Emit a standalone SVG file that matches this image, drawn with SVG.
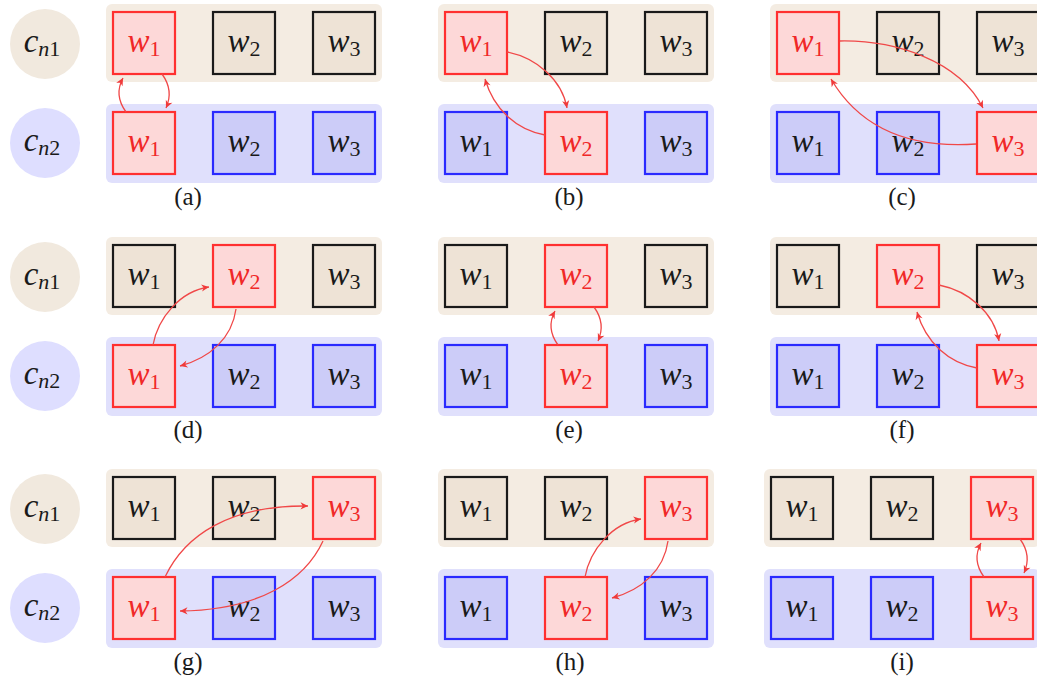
<svg xmlns="http://www.w3.org/2000/svg" width="1037" height="677" viewBox="0 0 1037 677">
<style>
.bgt{fill:#f4ece2}
.bgb{fill:#e0e0fc}
.c1{fill:#f1e9de}
.c2{fill:#dedeff}
.k{fill:#eee3d6;stroke:#1a1a1a;stroke-width:2.2}
.b{fill:#ccccf8;stroke:#2a2aff;stroke-width:2.2}
.r{fill:#fdd8d8;stroke:#ff3030;stroke-width:2.2}
text{font-family:"Liberation Serif","DejaVu Serif",serif;text-anchor:middle}
.w{font-size:33px;font-style:italic;fill:#1a1a1a}
.wr{font-size:33px;font-style:italic;fill:#f02828}
.s{font-size:22px;font-style:normal}
.si{font-size:22px;font-style:italic}
.cap{font-size:25px;fill:#1a1a1a}
.arr{fill:none;stroke:#f04848;stroke-width:1.3;marker-end:url(#ah)}
</style>
<defs>
<marker id="ah" viewBox="-9 -5 10 10" refX="0" refY="0" markerWidth="10" markerHeight="10" markerUnits="userSpaceOnUse" orient="auto">
<path d="M0,0 L-7.5,-3.6 L-5.3,0 L-7.5,3.6 Z" fill="#f03a3a"/>
</marker>
</defs>

<!-- Panel (a) -->
<g id="panel-a">
<rect class="bgt" x="106" y="4" width="276" height="78" rx="6"/>
<rect class="bgb" x="106" y="104" width="276" height="79" rx="6"/>
<g id="a-cn1"><circle class="c1" cx="45" cy="44" r="35"/><text class="w" x="42" y="52">c<tspan class="si" dy="4">n</tspan><tspan class="s">1</tspan></text></g>
<g id="a-cn2"><circle class="c2" cx="45" cy="143" r="35"/><text class="w" x="42" y="151">c<tspan class="si" dy="4">n</tspan><tspan class="s">2</tspan></text></g>
<g id="a-t1"><rect class="r" x="113" y="12" width="62" height="62"/><text class="wr" x="144" y="52">w<tspan class="s" dy="4">1</tspan></text></g>
<g id="a-t2"><rect class="k" x="213" y="12" width="62" height="62"/><text class="w" x="244" y="52">w<tspan class="s" dy="4">2</tspan></text></g>
<g id="a-t3"><rect class="k" x="313" y="12" width="62" height="62"/><text class="w" x="344" y="52">w<tspan class="s" dy="4">3</tspan></text></g>
<g id="a-b1"><rect class="r" x="113" y="112" width="62" height="62"/><text class="wr" x="144" y="152">w<tspan class="s" dy="4">1</tspan></text></g>
<g id="a-b2"><rect class="b" x="213" y="112" width="62" height="62"/><text class="w" x="244" y="152">w<tspan class="s" dy="4">2</tspan></text></g>
<g id="a-b3"><rect class="b" x="313" y="112" width="62" height="62"/><text class="w" x="344" y="152">w<tspan class="s" dy="4">3</tspan></text></g>
<text class="cap" x="188" y="205">(a)</text>
</g>

<!-- Panel (b) -->
<g id="panel-b" transform="translate(332,0)">
<rect class="bgt" x="106" y="4" width="276" height="78" rx="6"/>
<rect class="bgb" x="106" y="104" width="276" height="79" rx="6"/>
<g id="b-t1"><rect class="r" x="113" y="12" width="62" height="62"/><text class="wr" x="144" y="52">w<tspan class="s" dy="4">1</tspan></text></g>
<g id="b-t2"><rect class="k" x="213" y="12" width="62" height="62"/><text class="w" x="244" y="52">w<tspan class="s" dy="4">2</tspan></text></g>
<g id="b-t3"><rect class="k" x="313" y="12" width="62" height="62"/><text class="w" x="344" y="52">w<tspan class="s" dy="4">3</tspan></text></g>
<g id="b-b1"><rect class="b" x="113" y="112" width="62" height="62"/><text class="w" x="144" y="152">w<tspan class="s" dy="4">1</tspan></text></g>
<g id="b-b2"><rect class="r" x="213" y="112" width="62" height="62"/><text class="wr" x="244" y="152">w<tspan class="s" dy="4">2</tspan></text></g>
<g id="b-b3"><rect class="b" x="313" y="112" width="62" height="62"/><text class="w" x="344" y="152">w<tspan class="s" dy="4">3</tspan></text></g>
<text class="cap" x="237" y="205">(b)</text>
</g>

<!-- Panel (c) -->
<g id="panel-c" transform="translate(664,0)">
<rect class="bgt" x="106" y="4" width="276" height="78" rx="6"/>
<rect class="bgb" x="106" y="104" width="276" height="79" rx="6"/>
<g id="c-t1"><rect class="r" x="113" y="12" width="62" height="62"/><text class="wr" x="144" y="52">w<tspan class="s" dy="4">1</tspan></text></g>
<g id="c-t2"><rect class="k" x="213" y="12" width="62" height="62"/><text class="w" x="244" y="52">w<tspan class="s" dy="4">2</tspan></text></g>
<g id="c-t3"><rect class="k" x="313" y="12" width="62" height="62"/><text class="w" x="344" y="52">w<tspan class="s" dy="4">3</tspan></text></g>
<g id="c-b1"><rect class="b" x="113" y="112" width="62" height="62"/><text class="w" x="144" y="152">w<tspan class="s" dy="4">1</tspan></text></g>
<g id="c-b2"><rect class="b" x="213" y="112" width="62" height="62"/><text class="w" x="244" y="152">w<tspan class="s" dy="4">2</tspan></text></g>
<g id="c-b3"><rect class="r" x="313" y="112" width="62" height="62"/><text class="wr" x="344" y="152">w<tspan class="s" dy="4">3</tspan></text></g>
<text class="cap" x="238" y="205">(c)</text>
</g>

<!-- Panel (d) -->
<g id="panel-d" transform="translate(0,233)">
<rect class="bgt" x="106" y="4" width="276" height="78" rx="6"/>
<rect class="bgb" x="106" y="104" width="276" height="79" rx="6"/>
<g id="d-cn1"><circle class="c1" cx="45" cy="44" r="35"/><text class="w" x="42" y="52">c<tspan class="si" dy="4">n</tspan><tspan class="s">1</tspan></text></g>
<g id="d-cn2"><circle class="c2" cx="45" cy="143" r="35"/><text class="w" x="42" y="151">c<tspan class="si" dy="4">n</tspan><tspan class="s">2</tspan></text></g>
<g id="d-t1"><rect class="k" x="113" y="12" width="62" height="62"/><text class="w" x="144" y="52">w<tspan class="s" dy="4">1</tspan></text></g>
<g id="d-t2"><rect class="r" x="213" y="12" width="62" height="62"/><text class="wr" x="244" y="52">w<tspan class="s" dy="4">2</tspan></text></g>
<g id="d-t3"><rect class="k" x="313" y="12" width="62" height="62"/><text class="w" x="344" y="52">w<tspan class="s" dy="4">3</tspan></text></g>
<g id="d-b1"><rect class="r" x="113" y="112" width="62" height="62"/><text class="wr" x="144" y="152">w<tspan class="s" dy="4">1</tspan></text></g>
<g id="d-b2"><rect class="b" x="213" y="112" width="62" height="62"/><text class="w" x="244" y="152">w<tspan class="s" dy="4">2</tspan></text></g>
<g id="d-b3"><rect class="b" x="313" y="112" width="62" height="62"/><text class="w" x="344" y="152">w<tspan class="s" dy="4">3</tspan></text></g>
<text class="cap" x="188" y="205">(d)</text>
</g>

<!-- Panel (e) -->
<g id="panel-e" transform="translate(332,233)">
<rect class="bgt" x="106" y="4" width="276" height="78" rx="6"/>
<rect class="bgb" x="106" y="104" width="276" height="79" rx="6"/>
<g id="e-t1"><rect class="k" x="113" y="12" width="62" height="62"/><text class="w" x="144" y="52">w<tspan class="s" dy="4">1</tspan></text></g>
<g id="e-t2"><rect class="r" x="213" y="12" width="62" height="62"/><text class="wr" x="244" y="52">w<tspan class="s" dy="4">2</tspan></text></g>
<g id="e-t3"><rect class="k" x="313" y="12" width="62" height="62"/><text class="w" x="344" y="52">w<tspan class="s" dy="4">3</tspan></text></g>
<g id="e-b1"><rect class="b" x="113" y="112" width="62" height="62"/><text class="w" x="144" y="152">w<tspan class="s" dy="4">1</tspan></text></g>
<g id="e-b2"><rect class="r" x="213" y="112" width="62" height="62"/><text class="wr" x="244" y="152">w<tspan class="s" dy="4">2</tspan></text></g>
<g id="e-b3"><rect class="b" x="313" y="112" width="62" height="62"/><text class="w" x="344" y="152">w<tspan class="s" dy="4">3</tspan></text></g>
<text class="cap" x="237" y="205">(e)</text>
</g>

<!-- Panel (f) -->
<g id="panel-f" transform="translate(664,233)">
<rect class="bgt" x="106" y="4" width="276" height="78" rx="6"/>
<rect class="bgb" x="106" y="104" width="276" height="79" rx="6"/>
<g id="f-t1"><rect class="k" x="113" y="12" width="62" height="62"/><text class="w" x="144" y="52">w<tspan class="s" dy="4">1</tspan></text></g>
<g id="f-t2"><rect class="r" x="213" y="12" width="62" height="62"/><text class="wr" x="244" y="52">w<tspan class="s" dy="4">2</tspan></text></g>
<g id="f-t3"><rect class="k" x="313" y="12" width="62" height="62"/><text class="w" x="344" y="52">w<tspan class="s" dy="4">3</tspan></text></g>
<g id="f-b1"><rect class="b" x="113" y="112" width="62" height="62"/><text class="w" x="144" y="152">w<tspan class="s" dy="4">1</tspan></text></g>
<g id="f-b2"><rect class="b" x="213" y="112" width="62" height="62"/><text class="w" x="244" y="152">w<tspan class="s" dy="4">2</tspan></text></g>
<g id="f-b3"><rect class="r" x="313" y="112" width="62" height="62"/><text class="wr" x="344" y="152">w<tspan class="s" dy="4">3</tspan></text></g>
<text class="cap" x="238" y="205">(f)</text>
</g>

<!-- Panel (g) -->
<g id="panel-g" transform="translate(0,465)">
<rect class="bgt" x="106" y="4" width="276" height="78" rx="6"/>
<rect class="bgb" x="106" y="104" width="276" height="79" rx="6"/>
<g id="g-cn1"><circle class="c1" cx="45" cy="44" r="35"/><text class="w" x="42" y="52">c<tspan class="si" dy="4">n</tspan><tspan class="s">1</tspan></text></g>
<g id="g-cn2"><circle class="c2" cx="45" cy="143" r="35"/><text class="w" x="42" y="151">c<tspan class="si" dy="4">n</tspan><tspan class="s">2</tspan></text></g>
<g id="g-t1"><rect class="k" x="113" y="12" width="62" height="62"/><text class="w" x="144" y="52">w<tspan class="s" dy="4">1</tspan></text></g>
<g id="g-t2"><rect class="k" x="213" y="12" width="62" height="62"/><text class="w" x="244" y="52">w<tspan class="s" dy="4">2</tspan></text></g>
<g id="g-t3"><rect class="r" x="313" y="12" width="62" height="62"/><text class="wr" x="344" y="52">w<tspan class="s" dy="4">3</tspan></text></g>
<g id="g-b1"><rect class="r" x="113" y="112" width="62" height="62"/><text class="wr" x="144" y="152">w<tspan class="s" dy="4">1</tspan></text></g>
<g id="g-b2"><rect class="b" x="213" y="112" width="62" height="62"/><text class="w" x="244" y="152">w<tspan class="s" dy="4">2</tspan></text></g>
<g id="g-b3"><rect class="b" x="313" y="112" width="62" height="62"/><text class="w" x="344" y="152">w<tspan class="s" dy="4">3</tspan></text></g>
<text class="cap" x="188" y="205">(g)</text>
</g>

<!-- Panel (h) -->
<g id="panel-h" transform="translate(332,465)">
<rect class="bgt" x="106" y="4" width="276" height="78" rx="6"/>
<rect class="bgb" x="106" y="104" width="276" height="79" rx="6"/>
<g id="h-t1"><rect class="k" x="113" y="12" width="62" height="62"/><text class="w" x="144" y="52">w<tspan class="s" dy="4">1</tspan></text></g>
<g id="h-t2"><rect class="k" x="213" y="12" width="62" height="62"/><text class="w" x="244" y="52">w<tspan class="s" dy="4">2</tspan></text></g>
<g id="h-t3"><rect class="r" x="313" y="12" width="62" height="62"/><text class="wr" x="344" y="52">w<tspan class="s" dy="4">3</tspan></text></g>
<g id="h-b1"><rect class="b" x="113" y="112" width="62" height="62"/><text class="w" x="144" y="152">w<tspan class="s" dy="4">1</tspan></text></g>
<g id="h-b2"><rect class="r" x="213" y="112" width="62" height="62"/><text class="wr" x="244" y="152">w<tspan class="s" dy="4">2</tspan></text></g>
<g id="h-b3"><rect class="b" x="313" y="112" width="62" height="62"/><text class="w" x="344" y="152">w<tspan class="s" dy="4">3</tspan></text></g>
<text class="cap" x="238" y="205">(h)</text>
</g>

<!-- Panel (i) -->
<g id="panel-i" transform="translate(658,465)">
<rect class="bgt" x="106" y="4" width="276" height="78" rx="6"/>
<rect class="bgb" x="106" y="104" width="276" height="79" rx="6"/>
<g id="i-t1"><rect class="k" x="113" y="12" width="62" height="62"/><text class="w" x="144" y="52">w<tspan class="s" dy="4">1</tspan></text></g>
<g id="i-t2"><rect class="k" x="213" y="12" width="62" height="62"/><text class="w" x="244" y="52">w<tspan class="s" dy="4">2</tspan></text></g>
<g id="i-t3"><rect class="r" x="313" y="12" width="62" height="62"/><text class="wr" x="344" y="52">w<tspan class="s" dy="4">3</tspan></text></g>
<g id="i-b1"><rect class="b" x="113" y="112" width="62" height="62"/><text class="w" x="144" y="152">w<tspan class="s" dy="4">1</tspan></text></g>
<g id="i-b2"><rect class="b" x="213" y="112" width="62" height="62"/><text class="w" x="244" y="152">w<tspan class="s" dy="4">2</tspan></text></g>
<g id="i-b3"><rect class="r" x="313" y="112" width="62" height="62"/><text class="wr" x="344" y="152">w<tspan class="s" dy="4">3</tspan></text></g>
<text class="cap" x="244" y="205">(i)</text>
</g>

<!-- Connectors -->
<g id="connectors">
<g transform="translate(0,0)">
<path class="arr" d="M126,112 C118,101 117,89 123,78"/>
<path class="arr" d="M162,74 C170,85 171,97 166,108"/>
</g>
<g transform="translate(332,0)">
<path class="arr" d="M175,52 C205,58 230,80 235,108"/>
<path class="arr" d="M213,135 C185,130 162,110 153,79"/>
</g>
<g transform="translate(664,0)">
<path class="arr" d="M176,41 C230,40 295,60 319,108"/>
<path class="arr" d="M312,144 C255,148 200,135 167,79"/>
</g>
<g transform="translate(0,233)">
<path class="arr" d="M153,112 C158,85 180,58 209,54"/>
<path class="arr" d="M236,76 C232,105 210,125 180,133"/>
</g>
<g transform="translate(332,233)">
<path class="arr" d="M226,112 C218,101 217,89 223,78"/>
<path class="arr" d="M262,74 C270,85 271,97 266,108"/>
</g>
<g transform="translate(664,233)">
<path class="arr" d="M275,52 C305,58 330,80 335,108"/>
<path class="arr" d="M313,135 C285,130 262,110 253,79"/>
</g>
<g transform="translate(0,465)">
<path class="arr" d="M165,112 C185,70 230,40 308,41"/>
<path class="arr" d="M323,76 C305,115 260,145 180,146"/>
</g>
<g transform="translate(332,465)">
<path class="arr" d="M253,112 C258,85 280,58 309,54"/>
<path class="arr" d="M336,76 C332,105 310,125 280,133"/>
</g>
<g transform="translate(658,465)">
<path class="arr" d="M326,112 C318,101 317,89 323,78"/>
<path class="arr" d="M362,74 C370,85 371,97 366,108"/>
</g>
</g>
</svg>
